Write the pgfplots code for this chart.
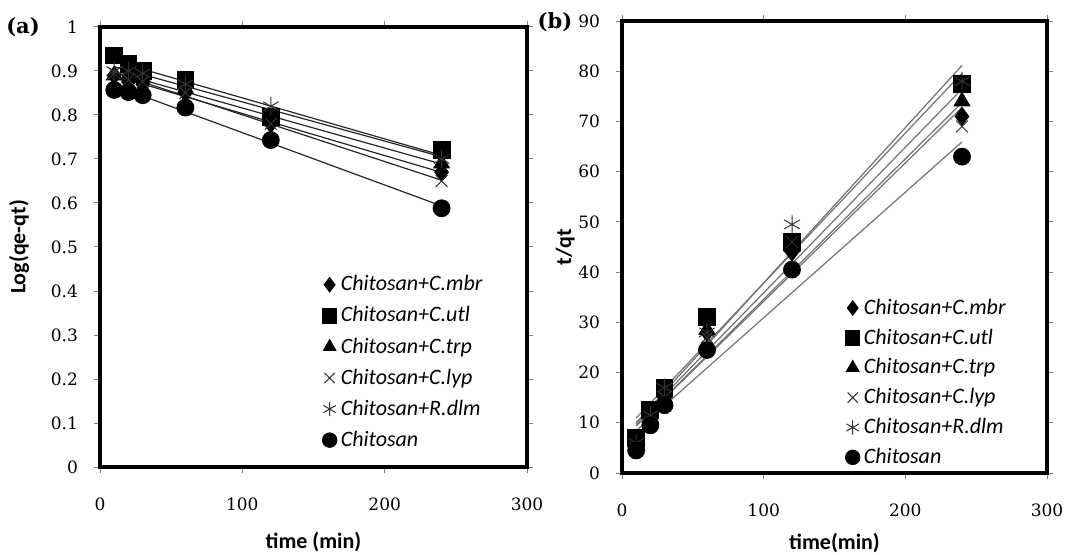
\documentclass[border=0pt]{standalone}
\usepackage{fontspec}
\setmainfont{Carlito}
\newfontfamily\tickfont{DejaVu Serif}
\usepackage{pgfplots}
\usepackage{pgfplotstable}
\pgfplotsset{compat=1.18}

% (a) pseudo-first-order: log(qe-qt) vs time
\pgfplotstableread{
t   mbr   utl   trp   lyp   dlm   chi
10  0.890 0.935 0.890 0.895 0.900 0.857
20  0.875 0.915 0.890 0.880 0.900 0.852
30  0.870 0.900 0.885 0.875 0.895 0.845
60  0.850 0.880 0.860 0.850 0.870 0.817
120 0.780 0.795 0.790 0.780 0.820 0.743
240 0.670 0.720 0.690 0.650 0.700 0.588
}\tabA

% (b) pseudo-second-order: t/qt vs time
\pgfplotstableread{
t   mbr  utl  trp  lyp  dlm  chi
10  5.5  7.0  6.0  5.0  6.0  4.5
20  10.5 12.5 11.0 10.0 11.5 9.5
30  15.0 17.0 16.0 15.0 17.0 13.5
60  28.0 31.0 28.5 27.0 28.0 24.5
120 44.0 46.0 45.0 46.0 49.5 40.5
240 71.0 77.5 74.0 69.0 78.0 63.0
}\tabB

\pgfplotsset{
  kin/.style={
    scale only axis,
    xmin=0, xmax=300,
    xtick={0,100,200,300},
    ymin=0,
    tick align=outside,
    major tick length=3pt,
    tick style={gray, line width=0.5pt},
    axis line style={black, line width=2pt},
    ticklabel style={font=\tickfont\fontsize{8.5}{10}\selectfont},
    /pgf/number format/assume math mode=true,
    xticklabel style={yshift=-9pt},
    yticklabel style={xshift=-4.5pt},
    label style={font=\bfseries\fontsize{11}{13}\selectfont},
    legend cell align=left,
    legend style={draw=none, fill=none, font=\itshape\fontsize{11}{13.2}\selectfont, inner sep=0pt},
    legend image code/.code={\draw[mark size=3.6pt] plot coordinates {(0.14cm,0cm)};},
    every axis plot/.append style={line width=0.5pt},
  },
  fit/.style={forget plot, no marks, line width=0.6pt},
}

\begin{document}
\begin{tikzpicture}
\useasboundingbox (0,0) rectangle (542.5pt,-277.5pt);

\begin{axis}[kin,
  at={(50pt,-233.5pt)}, anchor=south west,
  width=213.5pt, height=220pt,
  ymax=1, ytick={0,0.1,...,1},
  yticklabels={0,0.1,0.2,0.3,0.4,0.5,0.6,0.7,0.8,0.9,1},
  xlabel={time (min)}, ylabel={Log(qe-qt)},
  xlabel style={yshift=-4pt}, ylabel style={yshift=4pt},
  legend style={at={(0.52,0.445)}, anchor=north west, row sep=2.4pt},
]
\addplot[fit, black!85] table[x=t, y={create col/linear regression={y=mbr}}] {\tabA};
\addplot[fit, black!85] table[x=t, y={create col/linear regression={y=utl}}] {\tabA};
\addplot[fit, black!85] table[x=t, y={create col/linear regression={y=trp}}] {\tabA};
\addplot[fit, black!85] table[x=t, y={create col/linear regression={y=lyp}}] {\tabA};
\addplot[fit, black!85] table[x=t, y={create col/linear regression={y=dlm}}] {\tabA};
\addplot[fit, black!85] table[x=t, y={create col/linear regression={y=chi}}] {\tabA};
\addplot[only marks, mark=diamond*, mark size=4.5pt, black] table[x=t, y=mbr] {\tabA};
\addlegendentry{Chitosan+C.mbr}
\addplot[only marks, mark=square*, mark size=4.2pt, black] table[x=t, y=utl] {\tabA};
\addlegendentry{Chitosan+C.utl}
\addplot[only marks, mark=triangle*, mark size=4.5pt, black] table[x=t, y=trp] {\tabA};
\addlegendentry{Chitosan+C.trp}
\addplot[only marks, mark=x, mark size=4.2pt, black!80] table[x=t, y=lyp] {\tabA};
\addlegendentry{Chitosan+C.lyp}
\addplot[only marks, mark=asterisk, mark size=4.5pt, black!80] table[x=t, y=dlm] {\tabA};
\addlegendentry{Chitosan+R.dlm}
\addplot[only marks, mark=*, mark size=4.2pt, black] table[x=t, y=chi] {\tabA};
\addlegendentry{Chitosan}
\end{axis}

\begin{axis}[kin,
  at={(311pt,-236.5pt)}, anchor=south west,
  width=212.5pt, height=226pt,
  ymax=90, ytick={0,10,...,90},
  xlabel={time(min)}, ylabel={t/qt},
  xlabel style={yshift=-1.5pt}, ylabel style={yshift=-5pt},
  legend style={at={(0.525,0.395)}, anchor=north west, row sep=1.8pt},
]
\addplot[fit, black!55] table[x=t, y={create col/linear regression={y=mbr}}] {\tabB};
\addplot[fit, black!55] table[x=t, y={create col/linear regression={y=utl}}] {\tabB};
\addplot[fit, black!55] table[x=t, y={create col/linear regression={y=trp}}] {\tabB};
\addplot[fit, black!55] table[x=t, y={create col/linear regression={y=lyp}}] {\tabB};
\addplot[fit, black!55] table[x=t, y={create col/linear regression={y=dlm}}] {\tabB};
\addplot[fit, black!55] table[x=t, y={create col/linear regression={y=chi}}] {\tabB};
\addplot[only marks, mark=diamond*, mark size=4.5pt, black] table[x=t, y=mbr] {\tabB};
\addlegendentry{Chitosan+C.mbr}
\addplot[only marks, mark=square*, mark size=4.2pt, black] table[x=t, y=utl] {\tabB};
\addlegendentry{Chitosan+C.utl}
\addplot[only marks, mark=triangle*, mark size=4.5pt, black] table[x=t, y=trp] {\tabB};
\addlegendentry{Chitosan+C.trp}
\addplot[only marks, mark=x, mark size=4.2pt, black!80] table[x=t, y=lyp] {\tabB};
\addlegendentry{Chitosan+C.lyp}
\addplot[only marks, mark=asterisk, mark size=4.5pt, black!80] table[x=t, y=dlm] {\tabB};
\addlegendentry{Chitosan+R.dlm}
\addplot[only marks, mark=*, mark size=4.2pt, black] table[x=t, y=chi] {\tabB};
\addlegendentry{Chitosan}
\end{axis}

\node[font=\tickfont\bfseries\fontsize{10.5}{12}\selectfont] at (11.5pt,-13.5pt) {(a)};
\node[font=\tickfont\bfseries\fontsize{10.5}{12}\selectfont] at (277.5pt,-11pt) {(b)};
\end{tikzpicture}
\end{document}
